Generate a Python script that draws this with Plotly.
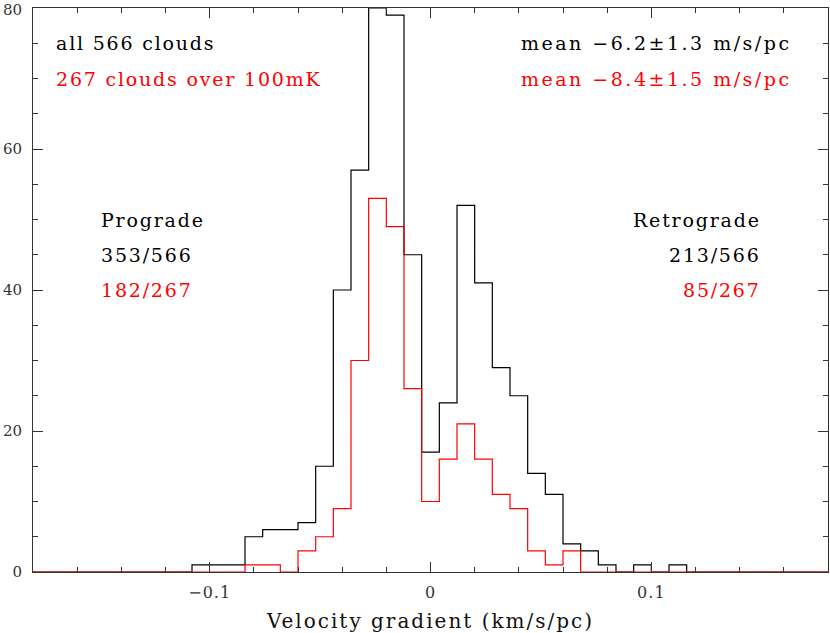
import numpy as np
import plotly.graph_objects as go

# Binning: 45 bins of width 0.008 km/s/pc from -0.18 to 0.18
bin_start = -0.18
bin_width = 0.008

# counts per bin (all clouds)
counts_all = [0, 0, 0, 0, 0, 0, 0, 0, 0,
              1, 1, 1, 5, 6, 6, 7, 15, 40, 57, 80, 79, 45,
              17, 24, 52, 41, 29, 25, 14, 11, 4, 3, 1, 0, 1, 0, 1,
              0, 0, 0, 0, 0, 0, 0, 0]
# counts per bin (clouds over 100 mK)
counts_bright = [0, 0, 0, 0, 0, 0, 0, 0, 0,
                 0, 0, 0, 1, 1, 0, 3, 5, 9, 30, 53, 49, 26,
                 10, 16, 21, 16, 11, 9, 3, 1, 3, 0, 0, 0, 0, 0, 0,
                 0, 0, 0, 0, 0, 0, 0, 0]

x_ticks = [-0.1, 0, 0.1]
x_tick_labels = ["\u22120.1", "0", "0.1"]
y_ticks = [0, 20, 40, 60, 80]
y_tick_labels = ["0", "20", "40", "60", "80"]

left_texts = ["all 566 clouds", "267 clouds over 100mK"]
right_texts = ["mean \u22126.2\u00b11.3 m/s/pc", "mean \u22128.4\u00b11.5 m/s/pc"]
pro_texts = ["Prograde", "353/566", "182/267"]
retro_texts = ["Retrograde", "213/566", "85/267"]

n = len(counts_all)
edges = bin_start + bin_width * np.arange(n + 1)

FONT = "DejaVu Serif"
TICKCOL = "#333333"

def spaced(t, ls):
    return f'<span style="letter-spacing:{ls}px">{t}</span>'

fig = go.Figure()
for counts, color in [(counts_all, "#000000"), (counts_bright, "#ff0000")]:
    fig.add_trace(go.Scatter(
        x=edges, y=list(counts) + [counts[-1]],
        mode="lines", line=dict(shape="hv", color=color, width=1.2),
        hoverinfo="skip", showlegend=False, cliponaxis=False,
    ))

ann = []
def add(text, x, y, color, anchor, ls=1.8):
    ann.append(dict(x=x, y=y, xref="x", yref="y", text=spaced(text, ls), showarrow=False,
                    xanchor=anchor, yanchor="middle",
                    font=dict(family=FONT, size=19, color=color)))

add(left_texts[0], -0.1705, 75, "#000000", "left")
add(left_texts[1], -0.1705, 70, "#ff0000", "left")
add(right_texts[0], 0.1648, 75, "#000000", "right", 2.5)
add(right_texts[1], 0.1648, 70, "#ff0000", "right", 2.5)
add(pro_texts[0], -0.1503, 50, "#000000", "left")
add(pro_texts[1], -0.1503, 45, "#000000", "left")
add(pro_texts[2], -0.1503, 40, "#ff0000", "left")
add(retro_texts[0], 0.1505, 50, "#000000", "right")
add(retro_texts[1], 0.1505, 45, "#000000", "right")
add(retro_texts[2], 0.1505, 40, "#ff0000", "right")

# top y tick label drawn as annotation (plotly drops it at the page edge)
ann.append(dict(x=0, y=y_ticks[-1], xref="paper", yref="y", text=y_tick_labels[-1],
                showarrow=False, xanchor="right", yanchor="top", xshift=-10, yshift=8,
                borderpad=0, font=dict(family=FONT, size=15, color=TICKCOL)))

axis_common = dict(
    showline=True, linecolor=TICKCOL, linewidth=1, mirror="ticks",
    ticks="inside", ticklen=10, tickcolor=TICKCOL, tickwidth=1,
    showgrid=False, zeroline=False, automargin=False,
)

fig.update_layout(
    width=830, height=633,
    margin=dict(l=33, r=2, t=8, b=61),
    paper_bgcolor="white", plot_bgcolor="white",
    annotations=ann,
    xaxis=dict(range=[-0.18, 0.18], tickvals=x_ticks,
               ticktext=[spaced(t, 1) for t in x_tick_labels],
               tickfont=dict(family=FONT, size=16, color=TICKCOL),
               ticklabelstandoff=6,
               minor=dict(dtick=0.02, tick0=0, ticklen=5, ticks="inside", tickcolor=TICKCOL),
               title=dict(text=spaced("Velocity gradient (km/s/pc)", 2), standoff=14,
                          font=dict(family=FONT, size=20, color="#111111")),
               **axis_common),
    yaxis=dict(range=[0, 80.001], tickvals=y_ticks,
               ticktext=y_tick_labels[:-1] + [""],
               tickfont=dict(family=FONT, size=15, color=TICKCOL),
               ticklabelstandoff=7,
               minor=dict(dtick=5, tick0=0, ticklen=5, ticks="inside", tickcolor=TICKCOL),
               **axis_common),
)

fig.write_html("out.html", config={"displayModeBar": False},
               post_script="document.body.style.margin='0';")
